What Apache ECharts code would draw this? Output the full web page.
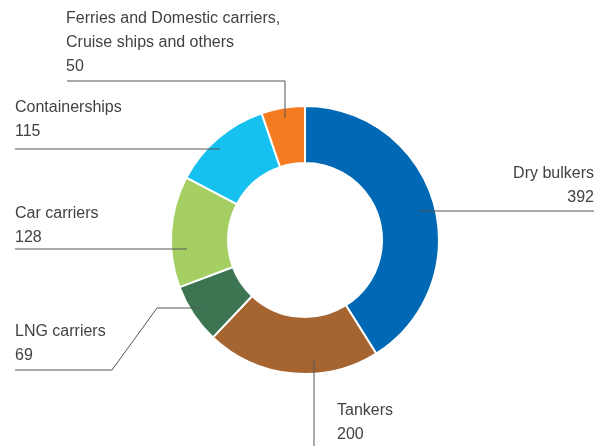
<!DOCTYPE html>
<html>
<head>
<meta charset="utf-8">
<script src="https://cdn.jsdelivr.net/npm/echarts@6/dist/echarts.min.js"></script>
<style>html,body{margin:0;padding:0;background:#fff}#c{width:606px;height:446px}</style>
</head>
<body>
<div id="c"></div>
<script>
var categories = ['Dry bulkers', 'Tankers', 'LNG carriers', 'Car carriers', 'Containerships', 'Ferries and Domestic carriers,\nCruise ships and others'];
var values = [392, 200, 69, 128, 115, 50];
var colors = ['#0068B4', '#A66431', '#3D7451', '#A5CF62', '#17C1EF', '#F47B20'];

// label placement (text box top-left / top-right) and leader-line paths
var labelPos = [
  {x: 594, y: 162, align: 'right', line: [[419, 211], [594, 211]]},
  {x: 337, y: 399, align: 'left', line: [[314, 359], [314, 446]]},
  {x: 15, y: 320, align: 'left', line: [[202, 308], [157, 308], [112, 370], [15, 370]]},
  {x: 15, y: 202, align: 'left', line: [[187, 249], [15, 249]]},
  {x: 15, y: 96, align: 'left', line: [[220, 149], [15, 149]]},
  {x: 66, y: 7, align: 'left', line: [[285, 118], [285, 81], [67, 81]]}
];

var pieCenter = [305, 240];
var pieRadius = [77, 134];

var chart = echarts.init(document.getElementById('c'), null, {renderer: 'canvas'});
chart.setOption({
  animation: false,
  backgroundColor: '#fff',
  series: [{
    type: 'pie',
    z: 2,
    center: pieCenter,
    radius: pieRadius,
    startAngle: 90,
    clockwise: true,
    silent: true,
    itemStyle: {borderColor: '#fff', borderWidth: 2},
    label: {show: false},
    labelLine: {show: false},
    data: categories.map(function (c, i) {
      return {name: c, value: values[i], itemStyle: {color: colors[i]}};
    })
  }, {
    type: 'pie',
    z: 5,
    center: pieCenter,
    radius: pieRadius,
    startAngle: 90,
    clockwise: true,
    silent: true,
    avoidLabelOverlap: false,
    itemStyle: {color: 'rgba(0,0,0,0)', borderWidth: 0},
    label: {
      show: true,
      position: 'outside',
      formatter: '{b}\n{c}',
      fontFamily: 'Liberation Sans, Arial, sans-serif',
      fontSize: 16,
      lineHeight: 24,
      color: '#424242'
    },
    labelLine: {show: true, smooth: false, lineStyle: {color: '#555', width: 1}},
    labelLayout: function (p) {
      var L = labelPos[p.dataIndex];
      return {x: L.x, y: L.y, align: L.align, verticalAlign: 'top', labelLinePoints: L.line};
    },
    data: categories.map(function (c, i) {
      return {name: c, value: values[i], label: {align: labelPos[i].align}};
    })
  }]
});
</script>
</body>
</html>
